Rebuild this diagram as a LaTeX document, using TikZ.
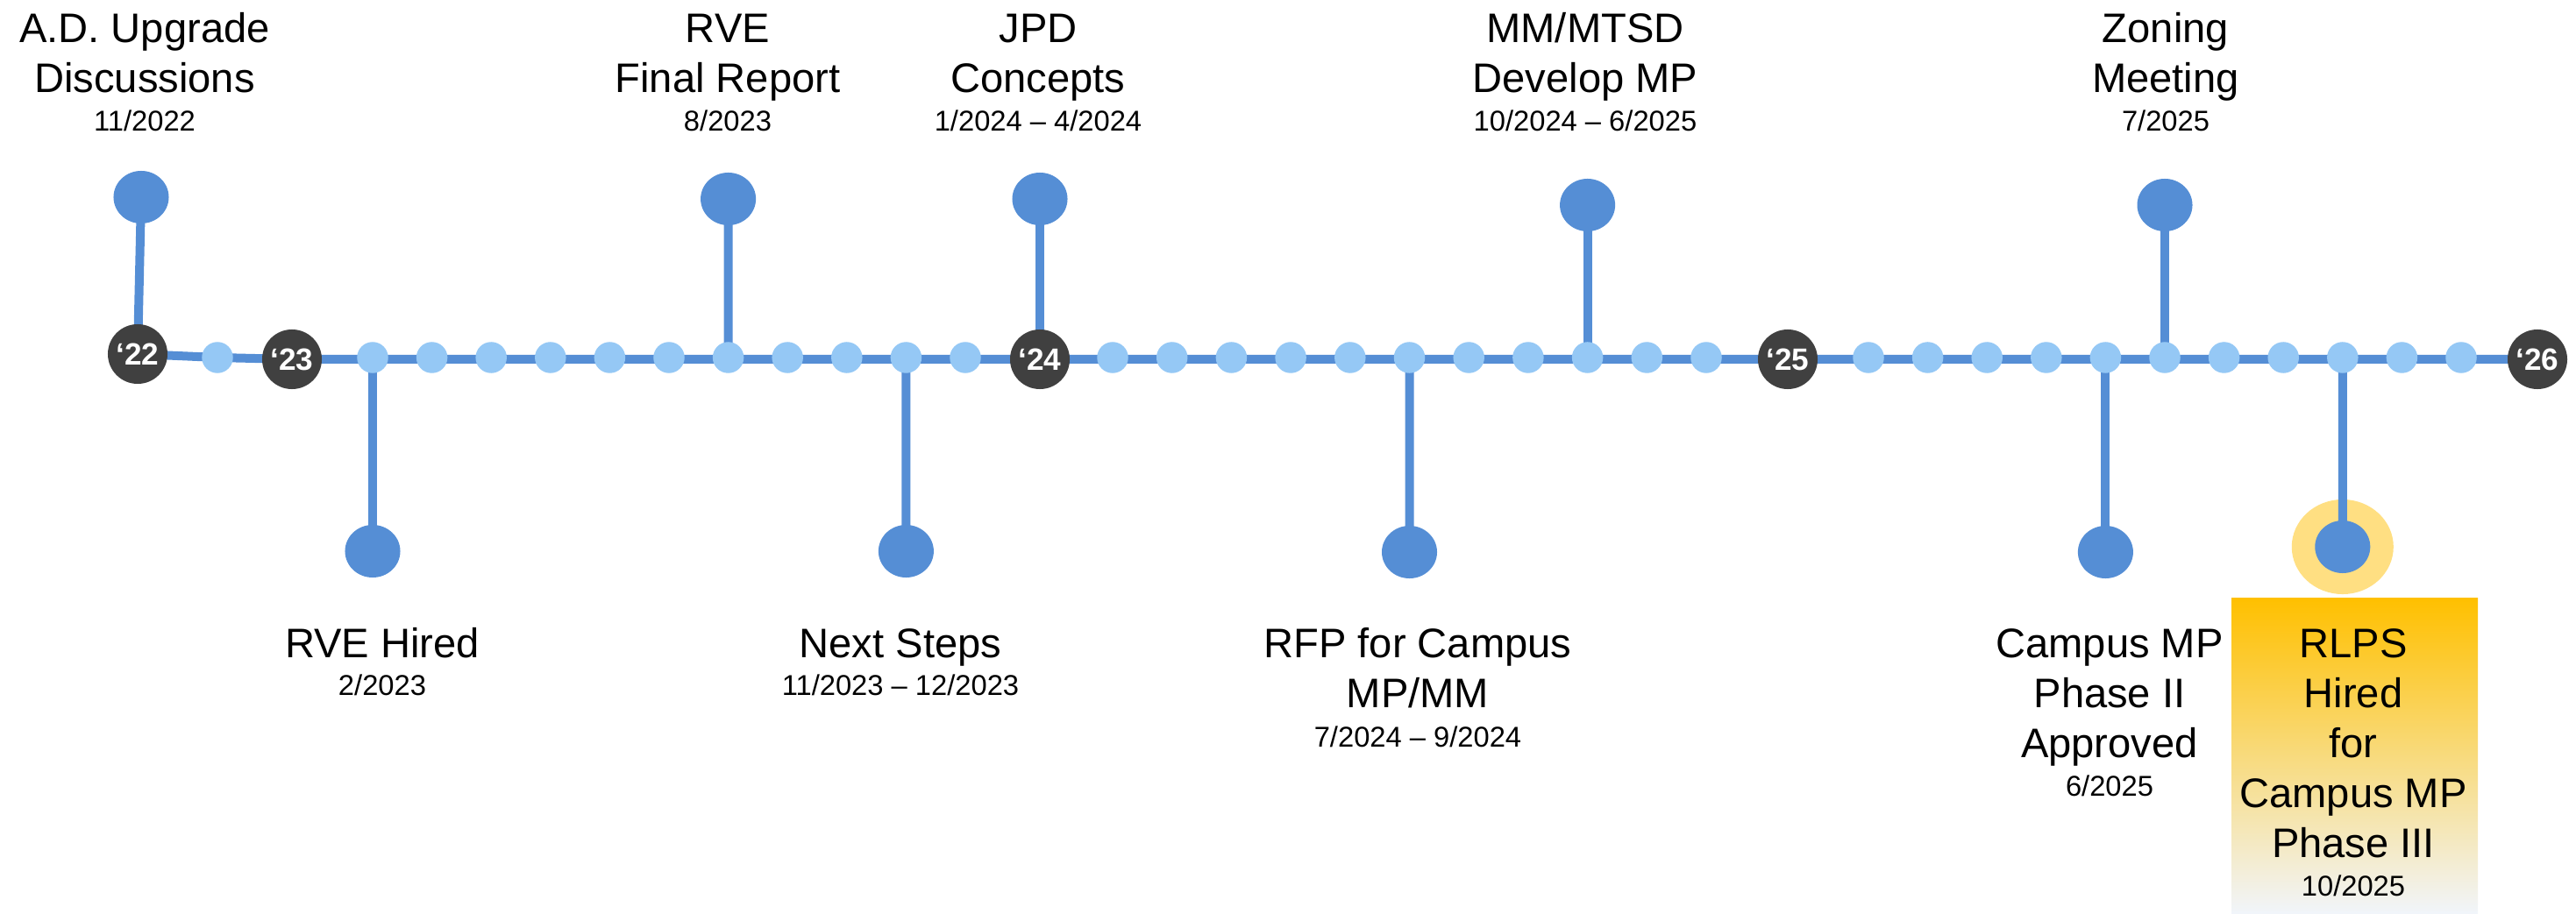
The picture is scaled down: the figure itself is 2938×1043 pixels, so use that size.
\documentclass[tikz,border=0pt]{standalone}
\usepackage{fontspec}
\setmainfont{Liberation Sans}
\usetikzlibrary{shapes.geometric}
\pgfdeclarelayer{back}
\pgfdeclarelayer{bg}
\pgfsetlayers{back,bg,main}
\definecolor{lineblue}{HTML}{558ED5}
\definecolor{lightdot}{HTML}{95C8F5}
\definecolor{yeardark}{HTML}{404040}
\definecolor{halo}{HTML}{FFDF82}
\definecolor{gtop}{HTML}{FFC000}
\definecolor{gmid}{HTML}{FCE28A}
\definecolor{gbot}{HTML}{F1F5FB}
\newcommand{\titlefont}{\fontsize{13.4pt}{16.2pt}\selectfont}
\newcommand{\datefont}{\fontsize{9.3pt}{11pt}\selectfont}
\newcommand{\ttl}[1]{\begin{tabular}[t]{@{}c@{}}#1\end{tabular}}
\begin{document}
\begin{tikzpicture}[x=0.01cm,y=-0.01cm,
  mainline/.style={draw=lineblue,line width=0.1cm},
  stem/.style={draw=lineblue,line width=0.1cm},
  monthdot/.style={circle,fill=lightdot,minimum size=0.355cm,inner sep=0pt},
  yeardot/.style={circle,fill=yeardark,minimum size=0.68cm,inner sep=0pt,text=white,font=\bfseries\fontsize{10pt}{11pt}\selectfont},
  evdot/.style={ellipse,fill=lineblue,minimum width=0.63cm,minimum height=0.60cm,inner sep=0pt},
  halodot/.style={ellipse,fill=halo,minimum width=1.16cm,minimum height=1.08cm,inner sep=0pt},
  title/.style={anchor=base,inner sep=0pt,font=\titlefont},
  datelbl/.style={anchor=base,inner sep=0pt,font=\datefont}]
\useasboundingbox (0,0) rectangle (2938,1043);

% year circles
\node[yeardot] (y22) at (157,404) {‘22};
\node[yeardot] (y23) at (333,410) {‘23};
\node[yeardot] (y24) at (1186,410) {‘24};
\node[yeardot] (y25) at (2039,410) {‘25};
\node[yeardot] (y26) at (2894,410) {‘26};

% month dots
\node[monthdot] (a0) at (248,408) {};
\foreach \k in {0,...,10}{
  \node[monthdot] (b\k) at ({425+67.6*\k},408) {};
  \node[monthdot] (c\k) at ({1269+67.7*\k},408) {};
  \node[monthdot] (d\k) at ({2131+67.6*\k},408) {};
}

% event dots
\node[evdot] (e1) at (161,225) {};
\node[evdot] (e2) at (830.6,227) {};
\node[evdot] (e3) at (1186,227) {};
\node[evdot] (e4) at (1810.6,234) {};
\node[evdot] (e5) at (2469,234) {};
\node[evdot] (e6) at (425,629) {};
\node[evdot] (e7) at (1033.4,629) {};
\node[evdot] (e8) at (1607.5,630) {};
\node[evdot] (e9) at (2401.4,630) {};
\node[evdot] (e10) at (2671.8,624) {};

% highlight
\begin{pgfonlayer}{back}
  \node[halodot] (h10) at (2671.8,624) {};
  \shade[top color=gtop,middle color=gmid,bottom color=gbot] (2545,683) rectangle (2826,1043);
\end{pgfonlayer}

% lines
\begin{pgfonlayer}{bg}
  \draw[mainline] (y22.center) -- (a0.center) -- (y23.center) -- (y26.center);
  \draw[stem] (y22.center) -- (e1.center);
  \draw[stem] (b6.center) -- (e2.center);
  \draw[stem] (y24.center) -- (e3.center);
  \draw[stem] (c8.center) -- (e4.center);
  \draw[stem] (d5.center) -- (e5.center);
  \draw[stem] (b0.center) -- (e6.center);
  \draw[stem] (b9.center) -- (e7.center);
  \draw[stem] (c5.center) -- (e8.center);
  \draw[stem] (d4.center) -- (e9.center);
  \draw[stem] (d8.center) -- (e10.center);
\end{pgfonlayer}

% labels above
\node[title] (t1) at (165,49) {\ttl{A.D. Upgrade\\Discussions}};
\node[datelbl] (n1) at (165,150) {11/2022};
\node[title] (t2) at (830,49) {\ttl{RVE\\Final Report}};
\node[datelbl] (n2) at (830,150) {8/2023};
\node[title] (t3) at (1184,49) {\ttl{JPD\\Concepts}};
\node[datelbl] (n3) at (1184,150) {1/2024 – 4/2024};
\node[title] (t4) at (1808,49) {\ttl{MM/MTSD\\Develop MP}};
\node[datelbl] (n4) at (1808,150) {10/2024 – 6/2025};
\node[title] (t5) at (2470,49) {\ttl{Zoning\\Meeting}};
\node[datelbl] (n5) at (2470,150) {7/2025};

% labels below
\node[title] (t6) at (436,751) {\ttl{RVE Hired}};
\node[datelbl] (n6) at (436,794) {2/2023};
\node[title] (t7) at (1027,751) {\ttl{Next Steps}};
\node[datelbl] (n7) at (1027,794) {11/2023 – 12/2023};
\node[title] (t8) at (1617,751) {\ttl{RFP for Campus\\MP/MM}};
\node[datelbl] (n8) at (1617,852) {7/2024 – 9/2024};
\node[title] (t9) at (2406,751) {\ttl{Campus MP\\Phase II\\Approved}};
\node[datelbl] (n9) at (2406,909) {6/2025};
\node[title] (t10) at (2684,751) {\ttl{RLPS\\Hired\\for\\Campus MP\\Phase III}};
\node[datelbl] (n10) at (2684,1022) {10/2025};
\end{tikzpicture}
\end{document}
